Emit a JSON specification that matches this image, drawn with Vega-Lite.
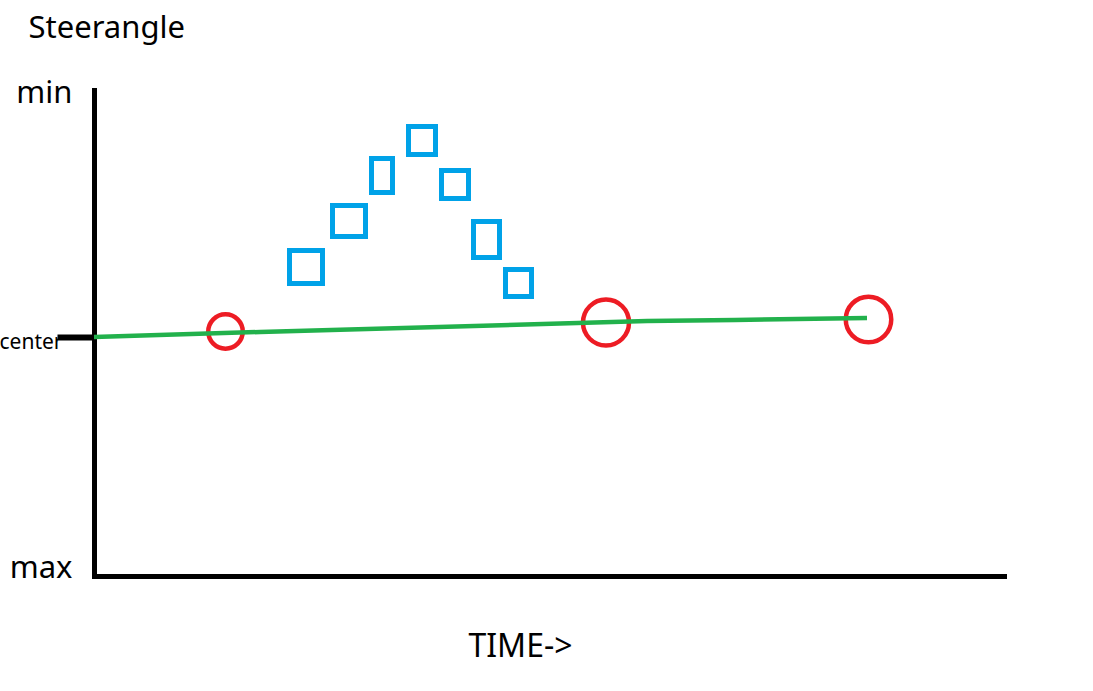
{
  "$schema": "https://vega.github.io/schema/vega-lite/v6.json",
  "width": 910,
  "height": 486,
  "autosize": {"type": "none"},
  "padding": {"left": 94, "top": 90, "right": 89, "bottom": 115},
  "background": "white",
  "config": {"view": {"stroke": null}, "font": "Noto Sans"},
  "datasets": {
    "path": [
      {"time": 0, "steer": 0},
      {"time": 166, "steer": 5},
      {"time": 553, "steer": 16},
      {"time": 641, "steer": 17},
      {"time": 773, "steer": 19}
    ],
    "circles": [
      {"time": 131.5, "steer": 5.5, "spread": 34.5},
      {"time": 512, "steer": 14.5, "spread": 46},
      {"time": 774.5, "steer": 17.5, "spread": 45.5}
    ],
    "boxes": [
      {"time": 195.5, "time_end": 228.5, "steer": 86.5, "steer_end": 53.5},
      {"time": 238.5, "time_end": 271.5, "steer": 131.5, "steer_end": 100.5},
      {"time": 277.5, "time_end": 298.5, "steer": 178.5, "steer_end": 144.5},
      {"time": 314.5, "time_end": 341.5, "steer": 210.5, "steer_end": 182.5},
      {"time": 347.5, "time_end": 374.5, "steer": 166.5, "steer_end": 138.5},
      {"time": 379.5, "time_end": 405.5, "steer": 115.5, "steer_end": 79.5},
      {"time": 411.5, "time_end": 437.5, "steer": 67.5, "steer_end": 40.5}
    ]
  },
  "encoding": {
    "x": {
      "field": "time",
      "type": "quantitative",
      "scale": {"domain": [0, 910], "nice": false, "zero": false},
      "axis": {
        "orient": "bottom",
        "labels": false,
        "ticks": false,
        "grid": false,
        "domainColor": "black",
        "domainWidth": 5,
        "domainCap": "square",
        "title": "TIME->",
        "titleFont": "Noto Sans",
        "titleFontSize": 32,
        "titleFontWeight": "normal",
        "titleColor": "black",
        "titleX": 426,
        "titleY": 80,
        "titleAlign": "center",
        "titleBaseline": "alphabetic"
      }
    },
    "y": {
      "field": "steer",
      "type": "quantitative",
      "scale": {"domain": [-239, 247], "nice": false, "zero": false},
      "axis": {
        "orient": "left",
        "values": [247, 0, -239],
        "labelExpr": "datum.value > 100 ? 'min' : (datum.value < -100 ? 'max' : 'center')",
        "labelFont": "Noto Sans",
        "labelColor": "black",
        "labelFontSize": {"condition": {"test": "datum.value == 0", "value": 21}, "value": 31},
        "labelBaseline": "alphabetic",
        "labelOffset": {"condition": [{"test": "datum.value == 0", "value": 11}, {"test": "datum.value < 0", "value": 1}], "value": 12},
        "labelPadding": {"condition": {"test": "datum.value == 0", "value": -5}, "value": -15},
        "labelOverlap": false,
        "labelBound": false,
        "ticks": true,
        "tickSize": 37,
        "tickWidth": 6,
        "tickColor": {"condition": {"test": "datum.value == 0", "value": "black"}, "value": "transparent"},
        "grid": false,
        "domainColor": "black",
        "domainWidth": 5,
        "domainCap": "square",
        "title": "Steerangle",
        "titleAngle": 0,
        "titleX": -66,
        "titleY": -53,
        "titleAlign": "left",
        "titleBaseline": "alphabetic",
        "titleFont": "Noto Sans",
        "titleFontSize": 31,
        "titleFontWeight": "normal",
        "titleColor": "black"
      }
    }
  },
  "layer": [
    {
      "data": {"name": "circles"},
      "mark": {"type": "point", "shape": "circle", "filled": false, "color": "#ed1c24", "strokeWidth": 4.5, "opacity": 1},
      "encoding": {
        "size": {"field": "spread", "type": "quantitative", "scale": {"type": "pow", "exponent": 2, "domain": [0, 50], "range": [0, 2500]}, "legend": null}
      }
    },
    {
      "data": {"name": "path"},
      "mark": {"type": "line", "color": "#22b14c", "strokeWidth": 4.5, "strokeCap": "butt"},
      "encoding": {}
    },
    {
      "data": {"name": "boxes"},
      "mark": {"type": "rect", "fillOpacity": 0, "stroke": "#00a2e8", "strokeWidth": 5},
      "encoding": {
        "x2": {"field": "time_end"},
        "y2": {"field": "steer_end"}
      }
    }
  ]
}
